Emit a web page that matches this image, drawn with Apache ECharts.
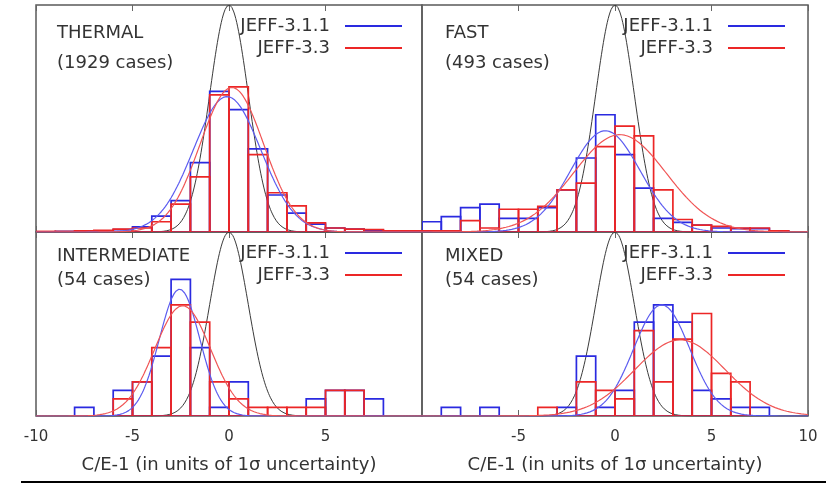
<!DOCTYPE html>
<html>
<head>
<meta charset="utf-8">
<script src="https://cdn.jsdelivr.net/npm/echarts@6/dist/echarts.min.js"></script>
<style>
  html, body { margin: 0; padding: 0; background: #fff; }
  #chart { width: 826px; height: 485px; }
</style>
</head>
<body>
<div id="chart"></div>
<script>
// Left edges of the unit-wide bins, -10 ... 9
const binEdges = [-10, -9, -8, -7, -6, -5, -4, -3, -2, -1, 0, 1, 2, 3, 4, 5, 6, 7, 8, 9];

// THERMAL and FAST: fraction of cases per unit bin
const thermalJeff311 = [0, 0.001, 0.001, 0.002, 0.004, 0.009, 0.028, 0.055, 0.122, 0.247, 0.215, 0.146, 0.065, 0.033, 0.014, 0.007, 0.005, 0.003, 0.002, 0.001];
const thermalJeff33  = [0.001, 0.001, 0.002, 0.003, 0.005, 0.007, 0.018, 0.049, 0.097, 0.241, 0.255, 0.136, 0.069, 0.046, 0.016, 0.007, 0.005, 0.004, 0.002, 0.002];
const fastJeff311    = [0.018, 0.027, 0.043, 0.049, 0.024, 0.024, 0.043, 0.074, 0.130, 0.206, 0.136, 0.077, 0.024, 0.017, 0.012, 0.007, 0.006, 0.006, 0.002, 0];
const fastJeff33     = [0.002, 0.002, 0.020, 0.007, 0.040, 0.040, 0.045, 0.074, 0.086, 0.150, 0.186, 0.169, 0.074, 0.022, 0.012, 0.010, 0.007, 0.007, 0.002, 0];

// INTERMEDIATE and MIXED: number of cases per bin (54 cases each)
const intermediateJeff311 = [0, 0, 1, 0, 3, 4, 7, 16, 8, 1, 4, 0, 0, 0, 2, 3, 3, 2, 0, 0];
const intermediateJeff33  = [0, 0, 0, 0, 2, 4, 8, 13, 11, 4, 2, 1, 1, 1, 1, 3, 3, 0, 0, 0];
const mixedJeff311        = [0, 1, 0, 1, 0, 0, 0, 1, 7, 1, 3, 11, 13, 11, 3, 2, 1, 1, 0, 0];
const mixedJeff33         = [0, 0, 0, 0, 0, 0, 1, 0, 4, 3, 2, 10, 4, 9, 12, 5, 4, 0, 0, 0];
const casesIntermediate = 54;
const casesMixed = 54;

// Gaussian fits: [mean, sigma, peak density]
const fitThermal311 = [-0.1, 1.75, 0.238];
const fitThermal33  = [0.15, 1.65, 0.254];
const fitFast311    = [-0.5, 1.8, 0.178];
const fitFast33     = [0.25, 2.4, 0.171];
const fitInter311   = [-2.56, 1.05, 0.275];
const fitInter33    = [-2.4, 1.45, 0.239];
const fitMixed311   = [2.42, 1.45, 0.241];
const fitMixed33    = [3.37, 2.35, 0.165];
// unit normal reference
const unitNormal    = [0, 1, 0.3989];

const xTicks = [-10, -5, 0, 5, 10];
const panelNames = ['THERMAL', 'FAST', 'INTERMEDIATE', 'MIXED'];
const panelCases = ['(1929 cases)', '(493 cases)', '(54 cases)', '(54 cases)'];
const seriesNames = ['JEFF-3.1.1', 'JEFF-3.3'];
const axisTitle = 'C/E-1 (in units of 1\u03c3 uncertainty)';

const BLUE = '#2a2ae0';
const RED = '#ec2626';
const BLUE_FIT = '#5c5cf0';
const RED_FIT = '#f05454';
const FONT = 'DejaVu Sans';

function gaussCurve(p) {
  const [mu, sigma, peak] = p;
  const pts = [];
  for (let i = 0; i <= 400; i++) {
    const x = -10 + i * 0.05;
    pts.push([x, peak * Math.exp(-((x - mu) * (x - mu)) / (2 * sigma * sigma))]);
  }
  return pts;
}

function histSeries(idx, name, values, scale, color) {
  return {
    name, type: 'custom', xAxisIndex: idx, yAxisIndex: idx,
    itemStyle: { color },
    data: values.map((v, k) => [binEdges[k], binEdges[k] + 1, v / scale]),
    encode: { x: [0, 1], y: 2 },
    clip: true,
    renderItem(params, api) {
      const v = api.value(2);
      if (!v) return null;
      const p0 = api.coord([api.value(0), 0]);
      const p1 = api.coord([api.value(1), v]);
      return {
        type: 'rect',
        shape: { x: p0[0], y: p1[1], width: p1[0] - p0[0], height: p0[1] - p1[1] },
        style: { fill: 'none', stroke: color, lineWidth: 1.7 }
      };
    },
    z: 3
  };
}

function fitSeries(idx, name, params, color, width, z) {
  return {
    name, type: 'line', xAxisIndex: idx, yAxisIndex: idx,
    data: gaussCurve(params), showSymbol: false, symbol: 'none',
    lineStyle: { color, width }, z, silent: true
  };
}

const panels = [
  { h311: thermalJeff311, h33: thermalJeff33, scale: 1, f311: fitThermal311, f33: fitThermal33 },
  { h311: fastJeff311, h33: fastJeff33, scale: 1, f311: fitFast311, f33: fitFast33 },
  { h311: intermediateJeff311, h33: intermediateJeff33, scale: casesIntermediate, f311: fitInter311, f33: fitInter33 },
  { h311: mixedJeff311, h33: mixedJeff33, scale: casesMixed, f311: fitMixed311, f33: fitMixed33 }
];

// panel frames in px: [left, top, width, height]
const frames = [
  [36, 5, 386, 227],
  [422, 5, 386, 227],
  [36, 232, 386, 184],
  [422, 232, 386, 184]
];

const grids = [], xAxes = [], yAxes = [], series = [], graphics = [];

frames.forEach((f, i) => {
  const bottomRow = i >= 2;
  grids.push({ left: f[0], top: f[1], width: f[2], height: f[3], show: true, borderColor: '#5a5a5a', borderWidth: 1.5, backgroundColor: 'transparent' });
  xAxes.push({
    gridIndex: i, type: 'value', min: xTicks[0], max: xTicks[xTicks.length - 1], interval: 5,
    axisLine: { show: false },
    axisTick: { show: true, inside: true, length: 6, lineStyle: { color: '#666', width: 1 } },
    splitLine: { show: false },
    axisLabel: {
      show: bottomRow, margin: 14, fontFamily: FONT, fontSize: 15, color: '#333',
      formatter: v => ((i === 2 && v === 10) || (i === 3 && v === -10)) ? '' : String(v)
    },
    name: bottomRow ? axisTitle : '', nameLocation: 'middle', nameGap: 40,
    nameTextStyle: { fontFamily: FONT, fontSize: 18, color: '#333' }
  });
  yAxes.push({ gridIndex: i, type: 'value', min: 0, max: 0.3989, show: false });
});
// mirrored ticks along the top edge of each panel
frames.forEach((f, i) => {
  xAxes.push({
    gridIndex: i, type: 'value', position: 'top', min: -10, max: 10, interval: 5,
    axisLine: { show: false }, splitLine: { show: false }, axisLabel: { show: false },
    axisTick: { show: true, inside: true, length: 6, lineStyle: { color: '#666', width: 1 } }
  });
});

panels.forEach((p, i) => {
  series.push(fitSeries(i, 'normal', unitNormal, '#3a3a3a', 1, 2));
  series.push(histSeries(i, seriesNames[0], p.h311, p.scale, BLUE));
  series.push(fitSeries(i, seriesNames[0] + ' fit', p.f311, BLUE_FIT, 1.2, 4));
  series.push(histSeries(i, seriesNames[1], p.h33, p.scale, RED));
  series.push(fitSeries(i, seriesNames[1] + ' fit', p.f33, RED_FIT, 1.2, 4));
});

// panel labels and legends
const labelPos = [[57, 33, 63], [445, 33, 63], [57, 256, 280], [445, 256, 280]];
const legendPos = [[330, 26, 48], [713, 26, 48], [330, 253, 275], [713, 253, 275]];
panelNames.forEach((n, i) => {
  const lp = labelPos[i], gp = legendPos[i];
  graphics.push({ type: 'text', x: lp[0], y: lp[1], style: { text: n, font: `18px "${FONT}"`, fill: '#333', verticalAlign: 'middle' } });
  graphics.push({ type: 'text', x: lp[0], y: lp[2], style: { text: panelCases[i], font: `18px "${FONT}"`, fill: '#333', verticalAlign: 'middle' } });
  [BLUE, RED].forEach((c, k) => {
    const y = k === 0 ? gp[1] : gp[2];
    graphics.push({ type: 'text', x: gp[0], y, style: { text: seriesNames[k], font: `18px "${FONT}"`, fill: '#333', align: 'right', verticalAlign: 'middle' } });
    graphics.push({ type: 'line', shape: { x1: gp[0] + 15, y1: y, x2: gp[0] + 72, y2: y }, style: { stroke: c, lineWidth: 1.8 } });
  });
});
// rule beneath the figure
graphics.push({ type: 'line', shape: { x1: 21, y1: 482, x2: 826, y2: 482 }, style: { stroke: '#000', lineWidth: 2 } });

const chart = echarts.init(document.getElementById('chart'), null, { renderer: 'canvas' });
chart.setOption({
  animation: false,
  backgroundColor: '#fff',
  grid: grids,
  xAxis: xAxes,
  yAxis: yAxes,
  series,
  graphic: graphics
});
</script>
</body>
</html>
